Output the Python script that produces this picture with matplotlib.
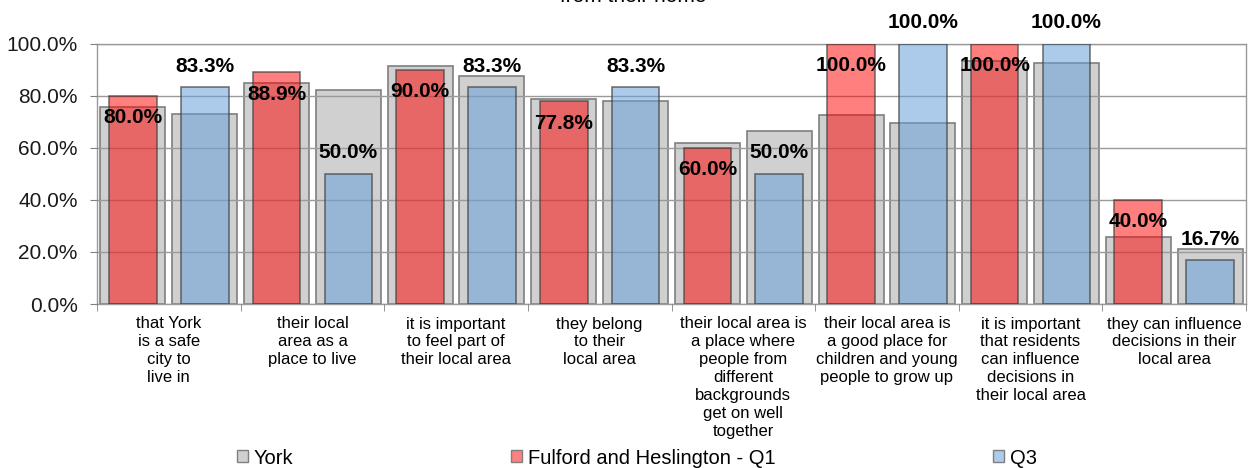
import matplotlib
matplotlib.use('Agg')
import matplotlib.pyplot as plt
import numpy as np
from matplotlib.patches import Patch
from matplotlib.ticker import FuncFormatter

plt.rcParams['font.family'] = ['Liberation Sans', 'DejaVu Sans']

categories = [
    "that York\nis a safe\ncity to\nlive in",
    "their local\narea as a\nplace to live",
    "it is important\nto feel part of\ntheir local area",
    "they belong\nto their\nlocal area",
    "their local area is\na place where\npeople from\ndifferent\nbackgrounds\nget on well\ntogether",
    "their local area is\na good place for\nchildren and young\npeople to grow up",
    "it is important\nthat residents\ncan influence\ndecisions in\ntheir local area",
    "they can influence\ndecisions in their\nlocal area",
]
york_q1 = [75.7, 84.8, 91.5, 78.6, 61.7, 72.4, 93.4, 25.7]
york_q3 = [72.8, 82.1, 87.6, 77.9, 66.5, 69.6, 92.4, 21.0]
fulford_q1 = [80.0, 88.9, 90.0, 77.8, 60.0, 100.0, 100.0, 40.0]
fulford_q3 = [83.3, 50.0, 83.3, 83.3, 50.0, 100.0, 100.0, 16.7]
legend_labels = ["York", "Fulford and Heslington - Q1", "Q3"]
yticks = [0, 20, 40, 60, 80, 100]

W, H = 1251, 468
fig = plt.figure(figsize=(W / 100, H / 100), dpi=100)
ax = fig.add_axes([97 / W, (H - 304) / H, (1246 - 97) / W, (304 - 43.5) / H])

x = np.arange(len(categories))
grey_w, col_w = 0.453, 0.332
grey = '#D0D0D0'
grey_edge = '#7F7F7F'
red = (1.0, 0.0, 0.0, 0.5)
blue = (104 / 255, 159 / 255, 217 / 255, 0.55)
bar_edge = (0.25, 0.25, 0.25, 0.7)

ax.bar(x - 0.25, york_q1, width=grey_w, color=grey, edgecolor=grey_edge, linewidth=1.2, zorder=2)
ax.bar(x + 0.25, york_q3, width=grey_w, color=grey, edgecolor=grey_edge, linewidth=1.2, zorder=2)
ax.bar(x - 0.25, fulford_q1, width=col_w, color=red, edgecolor=bar_edge, linewidth=1.2, zorder=3)
ax.bar(x + 0.25, fulford_q3, width=col_w, color=blue, edgecolor=bar_edge, linewidth=1.2, zorder=3)

for i in range(len(categories)):
    ax.annotate(f"{fulford_q1[i]:.1f}%", (x[i] - 0.25, fulford_q1[i]), xytext=(0, -22),
                textcoords='offset pixels', ha='center', va='center',
                fontsize=15, fontweight='bold', color='black', zorder=6, annotation_clip=False)
    ax.annotate(f"{fulford_q3[i]:.1f}%", (x[i] + 0.25, fulford_q3[i]), xytext=(0, 21),
                textcoords='offset pixels', ha='center', va='center',
                fontsize=15, fontweight='bold', color='black', zorder=6, annotation_clip=False)

ax.set_xlim(-0.5, len(categories) - 0.5)
ax.set_ylim(0, 100)
ax.set_yticks(yticks)
ax.yaxis.set_major_formatter(FuncFormatter(lambda v, p: f"{v:.1f}%"))
ax.tick_params(axis='y', labelsize=15, length=5, color='#808080', pad=9, labelcolor='#1a1a1a')
ax.set_xticks(x)
ax.set_xticklabels(categories, fontsize=12, linespacing=1.24, va='top')
ax.tick_params(axis='x', length=0, pad=9, labelcolor='black')
ax.set_xticks(np.arange(-0.5, len(categories)), minor=True)
ax.tick_params(axis='x', which='minor', length=5, color='#808080')

ax.set_axisbelow(False)
ax.yaxis.grid(True, color='#9A9A9A', linewidth=1.0)
for s in ax.spines.values():
    s.set_color('#9A9A9A')
    s.set_linewidth(1.0)

fig.text(633 / W, 1 - 2 / H, "from their home", ha='center', va='baseline', fontsize=15)

handles = [Patch(facecolor=grey, edgecolor=grey_edge),
           Patch(facecolor='#FF8080', edgecolor=grey_edge),
           Patch(facecolor='#ADCCEC', edgecolor=grey_edge)]
fig.legend(handles, legend_labels, loc='center', bbox_to_anchor=(637 / W, 10 / H), ncol=3,
           frameon=False, fontsize=14.5, handlelength=0.55, handleheight=0.55,
           handletextpad=0.3, columnspacing=10.8, borderpad=0)

fig.savefig('out.png', dpi=100)
